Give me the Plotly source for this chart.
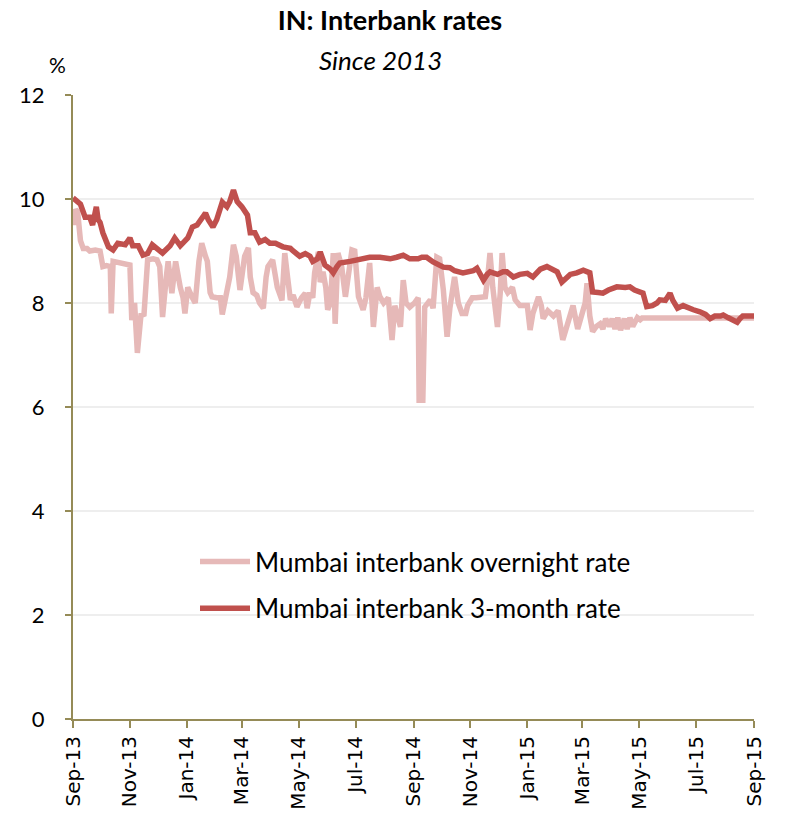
import plotly.graph_objects as go

# Mumbai interbank 3-month rate (%)
dates_3m = [
    "2013-09-01", "2013-09-05", "2013-09-09", "2013-09-14", "2013-09-19", "2013-09-22",
    "2013-09-26", "2013-09-28", "2013-09-30", "2013-10-03", "2013-10-09", "2013-10-14",
    "2013-10-19", "2013-10-27", "2013-11-01", "2013-11-04", "2013-11-10", "2013-11-15",
    "2013-11-20", "2013-11-25", "2013-11-30", "2013-12-06", "2013-12-14", "2013-12-19",
    "2013-12-25", "2013-12-30", "2014-01-02", "2014-01-07", "2014-01-12", "2014-01-18",
    "2014-01-21", "2014-01-24", "2014-01-29", "2014-02-02", "2014-02-08", "2014-02-13",
    "2014-02-16", "2014-02-20", "2014-02-24", "2014-03-01", "2014-03-07", "2014-03-10",
    "2014-03-15", "2014-03-20", "2014-03-26", "2014-03-31", "2014-04-06", "2014-04-14",
    "2014-04-22", "2014-04-25", "2014-05-02", "2014-05-08", "2014-05-13", "2014-05-16",
    "2014-05-21", "2014-05-24", "2014-05-29", "2014-06-04", "2014-06-07", "2014-06-11",
    "2014-06-14", "2014-06-25", "2014-07-02", "2014-07-11", "2014-07-16", "2014-07-27",
    "2014-08-07", "2014-08-14", "2014-08-21", "2014-08-28", "2014-09-06", "2014-09-10",
    "2014-09-15", "2014-09-22", "2014-09-27", "2014-10-03", "2014-10-10", "2014-10-15",
    "2014-10-24", "2014-10-29", "2014-11-04", "2014-11-08", "2014-11-11", "2014-11-15",
    "2014-11-19", "2014-11-22", "2014-11-30", "2014-12-06", "2014-12-10", "2014-12-17",
    "2014-12-24", "2015-01-01", "2015-01-07", "2015-01-15", "2015-01-22", "2015-01-29",
    "2015-02-02", "2015-02-07", "2015-02-10", "2015-02-16", "2015-02-23", "2015-03-02",
    "2015-03-09", "2015-03-12", "2015-03-18", "2015-03-23", "2015-03-29", "2015-04-03",
    "2015-04-07", "2015-04-16", "2015-04-21", "2015-04-26", "2015-05-02", "2015-05-05",
    "2015-05-09", "2015-05-15", "2015-05-20", "2015-05-23", "2015-05-29", "2015-06-03",
    "2015-06-06", "2015-06-11", "2015-06-17", "2015-06-21", "2015-06-28", "2015-07-05",
    "2015-07-11", "2015-07-16", "2015-07-21", "2015-07-27", "2015-07-30", "2015-08-04",
    "2015-08-10", "2015-08-14", "2015-08-17", "2015-08-20", "2015-08-26", "2015-09-01",
]
rate_3m = [
    10.02, 9.95, 9.90, 9.65, 9.65, 9.50,
    9.85, 9.60, 9.55, 9.35, 9.08, 9.02,
    9.15, 9.12, 9.25, 9.10, 9.10, 8.92,
    8.95, 9.12, 9.05, 8.96, 9.10, 9.25,
    9.10, 9.20, 9.25, 9.46, 9.50, 9.65,
    9.73, 9.60, 9.46, 9.60, 9.94, 9.85,
    9.95, 10.17, 9.95, 9.85, 9.69, 9.35,
    9.35, 9.17, 9.22, 9.15, 9.15, 9.08,
    9.05, 9.00, 8.90, 8.95, 8.90, 8.80,
    8.85, 8.98, 8.73, 8.65, 8.58, 8.70,
    8.77, 8.80, 8.83, 8.86, 8.88, 8.88,
    8.85, 8.88, 8.92, 8.85, 8.85, 8.88,
    8.88, 8.79, 8.75, 8.69, 8.68, 8.62,
    8.58, 8.60, 8.62, 8.67, 8.55, 8.44,
    8.55, 8.60, 8.55, 8.60, 8.60, 8.50,
    8.55, 8.57, 8.50, 8.65, 8.70, 8.62,
    8.60, 8.40, 8.45, 8.55, 8.58, 8.63,
    8.58, 8.21, 8.20, 8.19, 8.25, 8.30,
    8.31, 8.30, 8.31, 8.25, 8.22, 8.19,
    7.93, 7.95, 8.00, 8.06, 8.05, 8.19,
    8.05, 7.90, 7.95, 7.93, 7.87, 7.83,
    7.78, 7.70, 7.75, 7.75, 7.77, 7.72,
    7.68, 7.63, 7.70, 7.75, 7.75, 7.75,
]

# Mumbai interbank overnight rate (%)
dates_on = [
    "2013-09-01", "2013-09-02", "2013-09-04", "2013-09-06", "2013-09-09", "2013-09-12",
    "2013-09-16", "2013-09-19", "2013-09-25", "2013-09-30", "2013-10-03", "2013-10-07",
    "2013-10-11", "2013-10-12", "2013-10-14", "2013-10-19", "2013-10-25", "2013-11-01",
    "2013-11-03", "2013-11-06", "2013-11-09", "2013-11-11", "2013-11-13", "2013-11-16",
    "2013-11-20", "2013-11-26", "2013-11-30", "2013-12-03", "2013-12-06", "2013-12-10",
    "2013-12-12", "2013-12-16", "2013-12-20", "2013-12-25", "2013-12-28", "2013-12-30",
    "2014-01-02", "2014-01-07", "2014-01-10", "2014-01-14", "2014-01-17", "2014-01-21",
    "2014-01-23", "2014-01-26", "2014-01-28", "2014-02-02", "2014-02-06", "2014-02-08",
    "2014-02-11", "2014-02-16", "2014-02-20", "2014-02-23", "2014-02-27", "2014-03-02",
    "2014-03-04", "2014-03-08", "2014-03-10", "2014-03-13", "2014-03-17", "2014-03-20",
    "2014-03-24", "2014-03-27", "2014-03-29", "2014-04-03", "2014-04-08", "2014-04-13",
    "2014-04-16", "2014-04-19", "2014-04-22", "2014-04-25", "2014-04-29", "2014-05-04",
    "2014-05-08", "2014-05-10", "2014-05-13", "2014-05-16", "2014-05-18", "2014-05-22",
    "2014-05-24", "2014-05-27", "2014-05-30", "2014-06-01", "2014-06-04", "2014-06-07",
    "2014-06-09", "2014-06-12", "2014-06-16", "2014-06-20", "2014-06-23", "2014-06-27",
    "2014-06-30", "2014-07-04", "2014-07-09", "2014-07-12", "2014-07-16", "2014-07-20",
    "2014-07-24", "2014-07-27", "2014-07-31", "2014-08-05", "2014-08-09", "2014-08-12",
    "2014-08-18", "2014-08-21", "2014-08-24", "2014-08-28", "2014-09-02", "2014-09-06",
    "2014-09-07", "2014-09-11", "2014-09-13", "2014-09-19", "2014-09-22", "2014-09-26",
    "2014-09-29", "2014-10-03", "2014-10-07", "2014-10-10", "2014-10-15", "2014-10-19",
    "2014-10-23", "2014-10-27", "2014-10-29", "2014-11-03", "2014-11-07", "2014-11-11",
    "2014-11-17", "2014-11-19", "2014-11-22", "2014-11-25", "2014-11-30", "2014-12-03",
    "2014-12-05", "2014-12-08", "2014-12-11", "2014-12-16", "2014-12-19", "2014-12-24",
    "2014-12-30", "2015-01-01", "2015-01-04", "2015-01-07", "2015-01-13", "2015-01-16",
    "2015-01-18", "2015-01-23", "2015-01-29", "2015-02-03", "2015-02-08", "2015-02-12",
    "2015-02-16", "2015-02-19", "2015-02-24", "2015-03-01", "2015-03-04", "2015-03-06",
    "2015-03-09", "2015-03-12", "2015-03-16", "2015-03-20", "2015-03-23", "2015-03-26",
    "2015-03-30", "2015-04-02", "2015-04-05", "2015-04-08", "2015-04-11", "2015-04-15",
    "2015-04-18", "2015-04-21", "2015-04-24", "2015-04-29", "2015-05-02", "2015-05-04",
    "2015-09-01",
]
rate_on = [
    9.80, 9.50, 9.80, 9.75, 9.20, 9.05,
    9.05, 9.00, 9.02, 9.00, 8.70, 8.72,
    8.70, 7.80, 8.80, 8.78, 8.77, 8.73,
    7.67, 8.00, 7.04, 7.60, 7.80, 7.75,
    8.83, 8.85, 8.83, 8.70, 7.73, 8.50,
    8.80, 8.19, 8.80, 8.30, 8.10, 7.80,
    8.30, 8.10, 8.00, 8.80, 9.15, 8.90,
    8.80, 8.20, 8.12, 8.10, 8.10, 7.78,
    8.10, 8.50, 9.12, 8.90, 8.25, 8.60,
    8.90, 9.06, 8.50, 8.20, 8.15, 8.00,
    7.90, 8.50, 8.70, 8.83, 8.30, 8.05,
    8.96, 8.50, 8.06, 8.15, 7.93, 8.10,
    8.19, 7.90, 8.20, 8.10, 8.58, 8.98,
    8.40, 8.60, 8.30, 7.87, 8.00, 8.96,
    7.60, 8.96, 8.70, 8.12, 8.60, 9.02,
    9.00, 8.12, 7.87, 8.10, 8.77, 7.54,
    8.30, 8.12, 8.00, 8.10, 7.29, 7.95,
    7.54, 8.44, 8.00, 7.92, 8.00, 8.10,
    6.13, 6.13, 7.92, 8.06, 7.90, 8.88,
    8.85, 8.25, 7.35, 7.90, 8.50, 8.00,
    7.80, 7.80, 7.95, 8.10, 8.10, 8.10,
    8.12, 8.40, 8.96, 8.30, 7.54, 8.20,
    8.96, 8.30, 8.20, 8.30, 8.06, 7.95,
    7.95, 7.95, 7.48, 7.80, 8.12, 7.95,
    7.70, 7.85, 7.75, 7.85, 7.29, 7.55,
    7.75, 7.95, 7.50, 7.80, 8.00, 8.38,
    7.75, 7.45, 7.55, 7.60, 7.50, 7.70,
    7.55, 7.70, 7.50, 7.72, 7.48, 7.70,
    7.50, 7.72, 7.55, 7.72, 7.68, 7.71,
    7.71,
]

y_ticks = [0, 2, 4, 6, 8, 10, 12]

PINK = "#e6b9b8"
RED = "#c0504d"
AXIS = "#958b57"
TEXT_FONT = "Lato"

fig = go.Figure()
fig.add_trace(go.Scatter(
    x=dates_on, y=rate_on, mode="lines", name="Mumbai interbank overnight rate",
    line=dict(color=PINK, width=5.5), legendgroup="on",
))
fig.add_trace(go.Scatter(
    x=dates_3m, y=rate_3m, mode="lines", name="Mumbai interbank 3-month rate",
    line=dict(color=RED, width=5.5), legendgroup="3m",
))

fig.update_layout(
    width=787, height=822,
    margin=dict(l=73, r=33, t=95, b=103),
    paper_bgcolor="white", plot_bgcolor="white",
    font=dict(family=TEXT_FONT, color="#000000"),
    title=dict(
        text="<b>IN: Interbank rates</b>", x=390 / 787, xanchor="center",
        y=1 - 21 / 822, yanchor="middle", xref="container", yref="container",
        font=dict(size=27, family=TEXT_FONT, color="#000000"),
    ),
    annotations=[
        dict(text="<i>Since 2013</i>", xref="paper", yref="paper",
             x=(380 - 73) / 681, y=(719 - 60) / 624, xanchor="center", yanchor="middle",
             showarrow=False, font=dict(size=26, family=TEXT_FONT)),
        dict(text="%", xref="paper", yref="paper",
             x=(57 - 73) / 681, y=(719 - 65) / 624, xanchor="center", yanchor="middle",
             showarrow=False, font=dict(size=21, family=TEXT_FONT)),
    ],
    showlegend=True,
    legend=dict(
        x=(195 - 73) / 681, y=(719 - 538) / 624, xanchor="left", yanchor="top",
        bgcolor="rgba(0,0,0,0)", font=dict(size=26, family=TEXT_FONT),
        tracegroupgap=10, traceorder="grouped", itemwidth=50,
    ),
    xaxis=dict(
        type="date", range=["2013-09-01", "2015-09-01"],
        tick0="2013-09-01", dtick="M2", tickformat="%b-%y", tickangle=-90,
        showgrid=False, showline=True, linecolor=AXIS, linewidth=2,
        ticks="outside", ticklen=7, tickwidth=2, tickcolor=AXIS,
        tickfont=dict(family="DejaVu Sans", size=20, color="#000000"),
        zeroline=False,
    ),
    yaxis=dict(
        range=[0, 12], tickvals=y_ticks,
        showgrid=True, gridcolor="#eeeeee", gridwidth=2,
        showline=True, linecolor=AXIS, linewidth=2,
        ticks="outside", ticklen=6, tickwidth=2, tickcolor=AXIS,
        tickfont=dict(family=TEXT_FONT, size=22, color="#000000"),
        ticklabelstandoff=16, zeroline=False,
    ),
)

fig.write_html("out.html")
